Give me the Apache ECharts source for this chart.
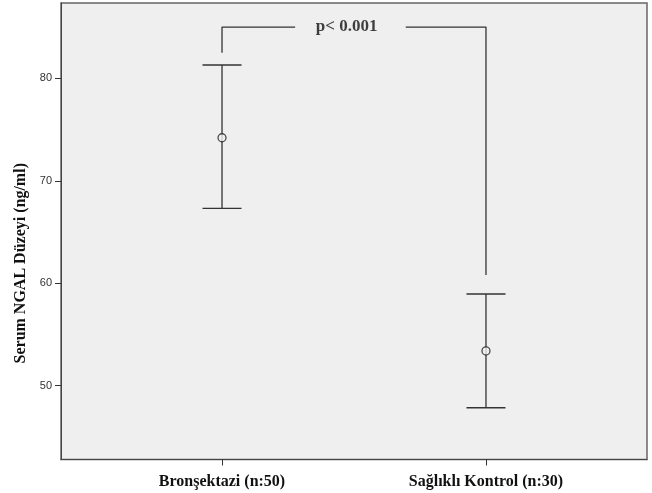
<!DOCTYPE html>
<html>
<head>
<meta charset="utf-8">
<script src="https://cdn.jsdelivr.net/npm/echarts@6/dist/echarts.min.js"></script>
<style>html,body{margin:0;padding:0;background:#fff;}#c{width:652px;height:493px;}</style>
</head>
<body>
<div id="c"></div>
<script>
var categories = ['Bronşektazi (n:50)', 'Sağlıklı Kontrol (n:30)'];
var means = [74.2, 53.4];
var upper = [81.3, 58.95];
var lower = [67.3, 47.85];
var yTicks = [50, 60, 70, 80];
var bracketLeft = [[0, 82.5], [0, 85], [0.277, 85]];
var bracketRight = [[0.696, 85], [1, 85], [1, 60.8]];
var pLabel = 'p< 0.001';
var pLabelPos = [0.472, 85];

var chart = echarts.init(document.getElementById('c'), null, {renderer: 'canvas'});
var serif = '"Liberation Serif", "Times New Roman", serif';
var lineColor = '#333';

var errData = categories.map(function (c, i) { return [i, lower[i], upper[i]]; });
var meanData = categories.map(function (c, i) { return [i, means[i]]; });

chart.setOption({
  animation: false,
  backgroundColor: '#ffffff',
  grid: {
    left: 61, right: 5, top: 3, bottom: 33.5,
    show: true, backgroundColor: '#efefef', borderColor: '#666', borderWidth: 1.5
  },
  xAxis: {
    type: 'value', min: -0.61, max: 1.61,
    splitLine: {show: false},
    axisLine: {show: true, onZero: false, lineStyle: {color: '#444', width: 1}},
    axisTick: {show: true, customValues: [0, 1], length: 6, lineStyle: {color: '#333', width: 1}},
    axisLabel: {
      customValues: [0, 1],
      formatter: function (v) { return categories[Math.round(v)]; },
      fontFamily: serif, fontWeight: 'bold', fontSize: 16, color: '#111', margin: 14
    }
  },
  yAxis: {
    type: 'value', min: 42.8, max: 87.35,
    name: 'Serum NGAL Düzeyi (ng/ml)',
    nameLocation: 'middle', nameGap: 30,
    nameTextStyle: {fontFamily: serif, fontWeight: 'bold', fontSize: 16, color: '#111', padding: [0, 64, 0, 0]},
    splitLine: {show: false},
    axisLine: {show: true, onZero: false, lineStyle: {color: '#444', width: 1}},
    axisTick: {show: true, customValues: yTicks, length: 6, lineStyle: {color: '#333', width: 1}},
    axisLabel: {
      customValues: yTicks,
      fontFamily: '"Liberation Sans", Arial, sans-serif', fontSize: 11, color: '#333', margin: 9
    }
  },
  series: [
    {
      type: 'custom',
      data: errData,
      renderItem: function (params, api) {
        var x = api.value(0);
        var lo = api.coord([x, api.value(1)]);
        var hi = api.coord([x, api.value(2)]);
        var hw = 19.5;
        var st = {stroke: lineColor, lineWidth: 1.3};
        return {
          type: 'group',
          children: [
            {type: 'line', shape: {x1: hi[0], y1: hi[1], x2: lo[0], y2: lo[1]}, style: st},
            {type: 'line', shape: {x1: hi[0] - hw, y1: hi[1], x2: hi[0] + hw, y2: hi[1]}, style: st},
            {type: 'line', shape: {x1: lo[0] - hw, y1: lo[1], x2: lo[0] + hw, y2: lo[1]}, style: st}
          ]
        };
      },
      z: 2
    },
    {
      type: 'scatter',
      data: meanData,
      symbol: 'circle', symbolSize: 8,
      itemStyle: {color: '#efefef', borderColor: '#222', borderWidth: 1.3},
      z: 3
    },
    {
      type: 'line', data: bracketLeft, symbol: 'none',
      lineStyle: {color: lineColor, width: 1.3}, z: 2
    },
    {
      type: 'line', data: bracketRight, symbol: 'none',
      lineStyle: {color: lineColor, width: 1.3}, z: 2
    },
    {
      type: 'scatter', data: [pLabelPos], symbolSize: 0,
      label: {
        show: true, position: 'inside', formatter: pLabel,
        fontFamily: serif, fontWeight: 'bold', fontSize: 17, color: '#111'
      },
      z: 4
    }
  ]
});
</script>
</body>
</html>
